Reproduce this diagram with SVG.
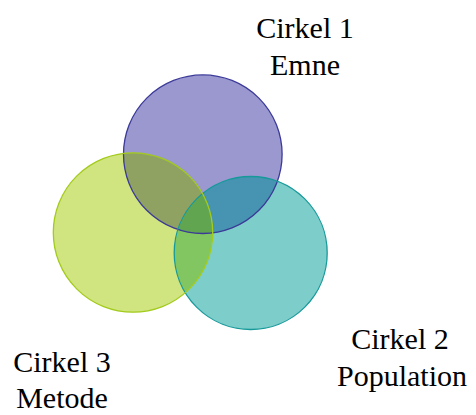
<svg xmlns="http://www.w3.org/2000/svg" width="476" height="415" viewBox="0 0 476 415">
<style>
  .ring { fill: none; stroke-width: 1.3; }
</style>
<defs>
  <clipPath id="clipP"><circle cx="202.8" cy="154.2" r="79.3"/></clipPath>
  <clipPath id="clipT"><circle cx="250.7" cy="253" r="76.5"/></clipPath>
</defs>
<rect width="476" height="415" fill="#ffffff"/>
<g id="cirkel1">
  <circle cx="202.8" cy="154.2" r="79.3" fill="#9b98d0"/>
</g>
<g id="cirkel2">
  <circle cx="250.7" cy="253" r="76.5" fill="#7dcdcb"/>
</g>
<g id="cirkel3">
  <circle cx="133" cy="232.5" r="79.7" fill="#d0e480"/>
</g>
<g id="overlaps">
  <circle cx="250.7" cy="253" r="76.5" fill="#4694b1" clip-path="url(#clipP)"/>
  <circle cx="133" cy="232.5" r="79.7" fill="#90a262" clip-path="url(#clipP)"/>
  <circle cx="133" cy="232.5" r="79.7" fill="#82c661" clip-path="url(#clipT)"/>
  <g clip-path="url(#clipP)">
    <circle cx="133" cy="232.5" r="79.7" fill="#62a551" clip-path="url(#clipT)"/>
  </g>
</g>
<g id="outlines">
  <circle class="ring" cx="202.8" cy="154.2" r="79.3" stroke="#3b3a98"/>
  <circle class="ring" cx="250.7" cy="253" r="76.5" stroke="#17999a"/>
  <circle class="ring" cx="133" cy="232.5" r="79.7" stroke="#a3cb1c"/>
</g>
<g id="labels" font-family="Liberation Serif, serif" font-size="30" fill="#000000" text-anchor="middle">
  <text x="305" y="38" font-family="Liberation Serif, serif">Cirkel 1</text>
  <text x="305" y="75" font-family="Liberation Serif, serif">Emne</text>
  <text x="400" y="349" font-family="Liberation Serif, serif">Cirkel 2</text>
  <text x="402" y="386" font-family="Liberation Serif, serif">Population</text>
  <text x="62" y="372" font-family="Liberation Serif, serif">Cirkel 3</text>
  <text x="62" y="408" font-family="Liberation Serif, serif">Metode</text>
</g>
<g id="connectors"></g>
</svg>
